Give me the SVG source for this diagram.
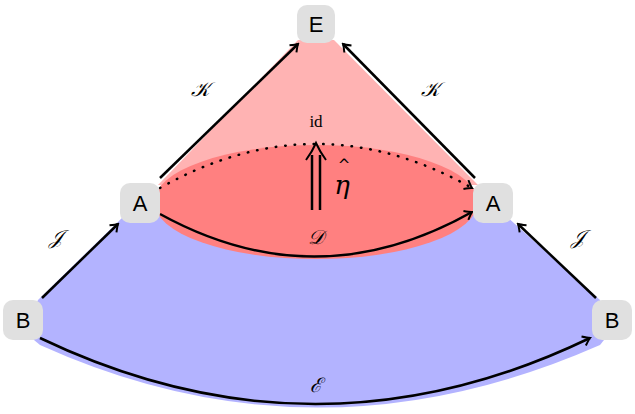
<svg xmlns="http://www.w3.org/2000/svg" width="635" height="414" viewBox="0 0 635 414">
<style>
.n rect{fill:#e0e0e0}
.n text{font-family:"Liberation Sans",sans-serif;font-size:22px;text-anchor:middle;fill:#000}
.e{fill:none;stroke:#000;stroke-width:2.5}
.l{font-family:"DejaVu Serif",serif;font-style:italic;font-size:20px;text-anchor:middle}
</style>
<defs>
<marker id="a" markerWidth="12" markerHeight="12" refX="1" refY="0" viewBox="-8 -6 10 12" orient="auto" markerUnits="userSpaceOnUse">
<path d="M-6,-5 Q-1,-1 1,0 Q-1,1 -6,5" fill="none" stroke="#000" stroke-width="2"/>
</marker>
</defs>
<g id="regions">
<path d="M38,300 L125,215 L505,215 L600,300 L612,330 L600,345 Q316,470 40,345 L22,330 Z" fill="#b3b3ff"/>
<path d="M298,40 L334,40 L478,185 L158,185 Z" fill="#ffb3b3"/>
<ellipse cx="316" cy="202" rx="162" ry="57" fill="#ff8080"/>
</g>
<g id="connectors">
<path class="e" d="M160,178 L298,44" marker-end="url(#a)"/>
<path class="e" d="M475,178 L343,44" marker-end="url(#a)"/>
<path class="e" d="M42,298 L118,224" marker-end="url(#a)"/>
<path class="e" d="M596,298 L518,224" marker-end="url(#a)"/>
<path class="e" d="M160,214 Q316,300 472,212" marker-end="url(#a)"/>
<path class="e" d="M160,188 Q316,100 472,188" stroke-dasharray="0.5,9" stroke-width="3.5" stroke-linecap="round" marker-end="url(#a)"/>
<path class="e" d="M40,338 Q316,470 590,338" marker-end="url(#a)"/>
<path class="e" d="M312,210 L312,155 M320,210 L320,155" stroke-width="2"/>
<path d="M306,160 Q312,152 316,143 Q320,152 326,160" fill="none" stroke="#000" stroke-width="2"/>
</g>
<g id="labels">
<text class="l" x="200" y="96">𝒦</text>
<text class="l" x="430" y="96">𝒦</text>
<text class="l" x="56" y="244">𝒥</text>
<text class="l" x="578" y="244">𝒥</text>
<text class="l" x="316" y="244" font-size="17">𝒟</text>
<text class="l" x="316" y="392" font-size="18">ℰ</text>
<text x="316" y="127" font-family="Liberation Serif,serif" font-size="17" text-anchor="middle">id</text>
<text x="342" y="194" font-family="DejaVu Serif,serif" font-style="italic" font-size="26" text-anchor="middle">η</text>
<text x="344" y="170" font-family="DejaVu Sans,sans-serif" font-size="15" text-anchor="middle">^</text>
</g>
<g id="E" class="n"><rect x="297" y="5" width="38" height="38" rx="10"/><text x="316" y="32">E</text></g>
<g id="A1" class="n"><rect x="120" y="183" width="40" height="40" rx="10"/><text x="140" y="211">A</text></g>
<g id="A2" class="n"><rect x="473" y="183" width="40" height="40" rx="10"/><text x="493" y="211">A</text></g>
<g id="B1" class="n"><rect x="3" y="300" width="40" height="40" rx="10"/><text x="23" y="328">B</text></g>
<g id="B2" class="n"><rect x="592" y="300" width="40" height="40" rx="10"/><text x="612" y="328">B</text></g>
</svg>
